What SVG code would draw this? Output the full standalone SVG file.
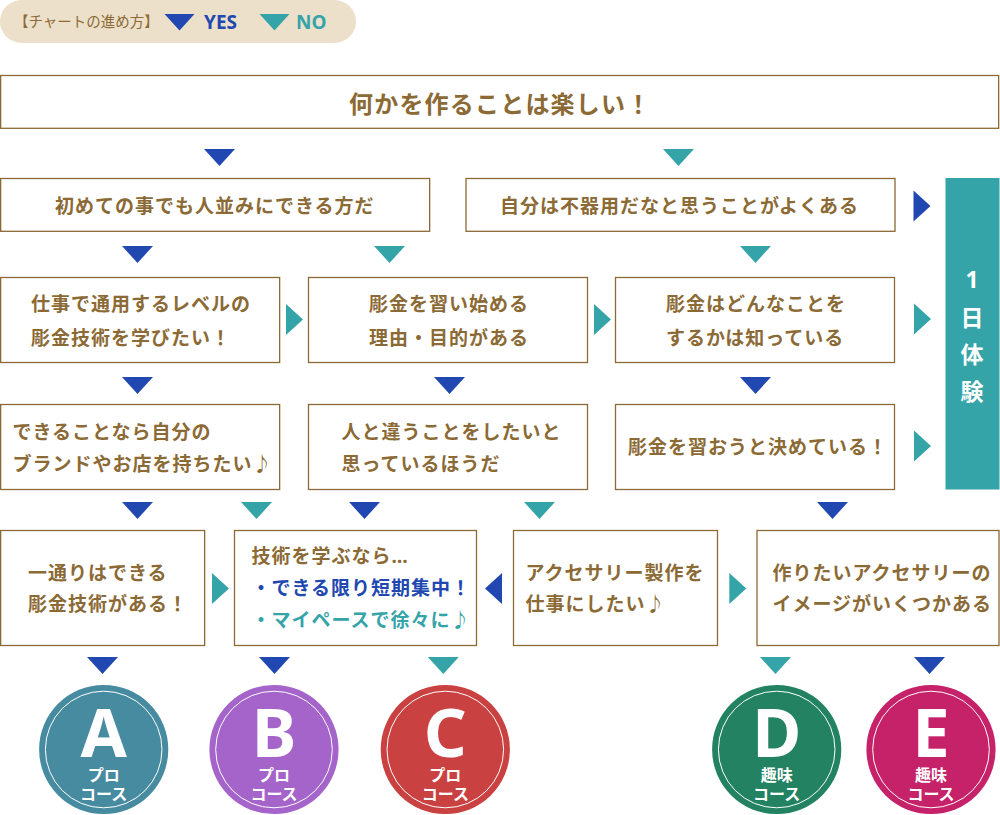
<svg xmlns="http://www.w3.org/2000/svg" width="1000" height="815" viewBox="0 0 1000 815">
<style>
.box{fill:#fff;stroke:#8B6A35;stroke-width:1.3}
.t{font-family:"Noto Sans CJK JP","Noto Sans",sans-serif;font-weight:bold;font-size:19px;letter-spacing:1px;fill:#8B6A35}
.tb{fill:#2148B0}
.tt{fill:#35A4A8}
.yes{fill:#2148B0}
.no{fill:#35A4A8}
.cl{font-family:"Noto Sans","Noto Sans CJK JP",sans-serif;font-weight:bold;fill:#fff;text-anchor:middle}
.cs{font-family:"Noto Sans CJK JP",sans-serif;font-size:16px}
.ring{fill:none;stroke:#fff;stroke-width:1}
</style>
<defs>
<path id="dn" d="M-15.5,0 L15.5,0 L0,17 Z"/>
<path id="rt" d="M0,-15.5 L0,15.5 L17,0 Z"/>
<path id="lt" d="M17,-15.5 L17,15.5 L0,0 Z"/>
</defs>

<g id="legend">
<rect x="0" y="0" width="356" height="43" rx="21.5" fill="#EDE0CB"/>
<text x="14" y="26.5" font-family="'Noto Sans CJK JP',sans-serif" font-size="14.5" fill="#8B6A35">【チャートの進め方】</text>
<path class="yes" d="M164.5,14 L194.5,14 L179.5,30.5 Z"/>
<text x="204" y="28.7" font-family="'Noto Sans','Noto Sans CJK JP',sans-serif" font-weight="bold" font-size="19" class="yes">YES</text>
<path class="no" d="M259.5,14 L289.5,14 L274.5,30.5 Z"/>
<text x="296" y="28.7" font-family="'Noto Sans','Noto Sans CJK JP',sans-serif" font-weight="bold" font-size="19" class="no">NO</text>
</g>

<g id="n-top">
<rect class="box" x="0.65" y="75.5" width="998" height="52.8"/>
<text class="t" x="349" y="112.5" style="font-size:24px;letter-spacing:1.2px">何かを作ることは楽しい！</text>
</g>

<g id="n-r2a">
<rect class="box" x="0.65" y="178.5" width="429" height="52.8"/>
<text class="t" x="55" y="212.5">初めての事でも人並みにできる方だ</text>
</g>
<g id="n-r2b">
<rect class="box" x="466" y="178.5" width="429" height="52.8"/>
<text class="t" x="500" y="212.5">自分は不器用だなと思うことがよくある</text>
</g>

<g id="n-oneday">
<rect x="945.5" y="178" width="54" height="311.5" fill="#35A4A8"/>
<text class="cl" x="972" y="287.5" font-size="23" font-family="'Noto Sans CJK JP',sans-serif">1</text>
<text class="cl" x="972" y="326" font-size="23" font-family="'Noto Sans CJK JP',sans-serif">日</text>
<text class="cl" x="972" y="362.5" font-size="23" font-family="'Noto Sans CJK JP',sans-serif">体</text>
<text class="cl" x="972" y="399.5" font-size="23" font-family="'Noto Sans CJK JP',sans-serif">験</text>
</g>

<g id="n-r3a">
<rect class="box" x="0.65" y="277.5" width="279" height="85"/>
<text class="t" x="31" y="311">仕事で通用するレベルの</text>
<text class="t" x="31" y="345">彫金技術を学びたい！</text>
</g>
<g id="n-r3b">
<rect class="box" x="308.5" y="277.5" width="279" height="85"/>
<text class="t" x="369" y="311">彫金を習い始める</text>
<text class="t" x="369" y="345">理由・目的がある</text>
</g>
<g id="n-r3c">
<rect class="box" x="615.5" y="277.5" width="279" height="85"/>
<text class="t" x="666" y="311">彫金はどんなことを</text>
<text class="t" x="666" y="345">するかは知っている</text>
</g>

<g id="n-r4a">
<rect class="box" x="0.65" y="404.5" width="279" height="85"/>
<text class="t" x="12.5" y="439">できることなら自分の</text>
<text class="t" x="12.5" y="471">ブランドやお店を持ちたい♪</text>
</g>
<g id="n-r4b">
<rect class="box" x="308.5" y="404.5" width="279" height="85"/>
<text class="t" x="341.5" y="439">人と違うことをしたいと</text>
<text class="t" x="341.5" y="471">思っているほうだ</text>
</g>
<g id="n-r4c">
<rect class="box" x="615.5" y="404.5" width="279" height="85"/>
<text class="t" x="628" y="453.7">彫金を習おうと決めている！</text>
</g>

<g id="n-r5a">
<rect class="box" x="0.65" y="530.5" width="204" height="115"/>
<text class="t" x="28" y="580">一通りはできる</text>
<text class="t" x="28" y="611">彫金技術がある！</text>
</g>
<g id="n-r5b">
<rect class="box" x="234.5" y="530.5" width="242" height="115"/>
<text class="t" x="251.5" y="563">技術を学ぶなら<tspan font-family="'Noto Sans',sans-serif">…</tspan></text>
<text class="t tb" x="251.5" y="595">・できる限り短期集中！</text>
<text class="t tt" x="251.5" y="627">・マイペースで徐々に♪</text>
</g>
<g id="n-r5c">
<rect class="box" x="513.5" y="530.5" width="204" height="115"/>
<text class="t" x="525.5" y="580">アクセサリー製作を</text>
<text class="t" x="525.5" y="611">仕事にしたい♪</text>
</g>
<g id="n-r5d">
<rect class="box" x="757" y="530.5" width="242" height="115"/>
<text class="t" x="772.5" y="580">作りたいアクセサリーの</text>
<text class="t" x="772.5" y="611">イメージがいくつかある</text>
</g>

<g id="n-A">
<circle cx="103.7" cy="749.5" r="64.6" fill="#478BA1"/>
<circle class="ring" cx="103.7" cy="749.5" r="58.3"/>
<text class="cl" x="103.7" y="756.7" font-size="67">A</text>
<text class="cl cs" x="103.7" y="780.5">プロ</text>
<text class="cl cs" x="103.7" y="799.5">コース</text>
</g>
<g id="n-B">
<circle cx="274" cy="749.5" r="64.6" fill="#A564C9"/>
<circle class="ring" cx="274" cy="749.5" r="58.3"/>
<text class="cl" x="274" y="756.7" font-size="67">B</text>
<text class="cl cs" x="274" y="780.5">プロ</text>
<text class="cl cs" x="274" y="799.5">コース</text>
</g>
<g id="n-C">
<circle cx="445.3" cy="749.5" r="64.6" fill="#CA4141"/>
<circle class="ring" cx="445.3" cy="749.5" r="58.3"/>
<text class="cl" x="445.3" y="756.7" font-size="67">C</text>
<text class="cl cs" x="445.3" y="780.5">プロ</text>
<text class="cl cs" x="445.3" y="799.5">コース</text>
</g>
<g id="n-D">
<circle cx="776.7" cy="749.5" r="64.6" fill="#228262"/>
<circle class="ring" cx="776.7" cy="749.5" r="58.3"/>
<text class="cl" x="776.7" y="756.7" font-size="67">D</text>
<text class="cl cs" x="776.7" y="780.5">趣味</text>
<text class="cl cs" x="776.7" y="799.5">コース</text>
</g>
<g id="n-E">
<circle cx="931" cy="749.5" r="64.6" fill="#C6226A"/>
<circle class="ring" cx="931" cy="749.5" r="58.3"/>
<text class="cl" x="931" y="756.7" font-size="67">E</text>
<text class="cl cs" x="931" y="780.5">趣味</text>
<text class="cl cs" x="931" y="799.5">コース</text>
</g>

<g id="connectors">
<use href="#dn" class="yes" x="219.5" y="149"/>
<use href="#dn" class="no" x="678.5" y="149"/>
<use href="#rt" class="yes" x="913.5" y="206"/>

<use href="#dn" class="yes" x="137.5" y="246"/>
<use href="#dn" class="no" x="389.5" y="246"/>
<use href="#dn" class="no" x="755.5" y="246"/>

<use href="#rt" class="no" x="286" y="319.5"/>
<use href="#rt" class="no" x="594" y="319.5"/>
<use href="#rt" class="no" x="914" y="319"/>

<use href="#dn" class="yes" x="137.5" y="377"/>
<use href="#dn" class="yes" x="449.5" y="377"/>
<use href="#dn" class="yes" x="755.5" y="377"/>

<use href="#rt" class="no" x="914" y="446"/>

<use href="#dn" class="yes" x="137.5" y="502"/>
<use href="#dn" class="no" x="256.5" y="502"/>
<use href="#dn" class="yes" x="364.5" y="502"/>
<use href="#dn" class="no" x="539.5" y="502"/>
<use href="#dn" class="yes" x="832.5" y="502"/>

<use href="#rt" class="no" x="212" y="588.5"/>
<use href="#lt" class="yes" x="485" y="588.5"/>
<use href="#rt" class="no" x="729.3" y="588.5"/>

<use href="#dn" class="yes" x="102.5" y="657"/>
<use href="#dn" class="yes" x="274.5" y="657"/>
<use href="#dn" class="no" x="443.3" y="657"/>
<use href="#dn" class="no" x="775.5" y="657"/>
<use href="#dn" class="yes" x="929.5" y="657"/>
</g>
</svg>
